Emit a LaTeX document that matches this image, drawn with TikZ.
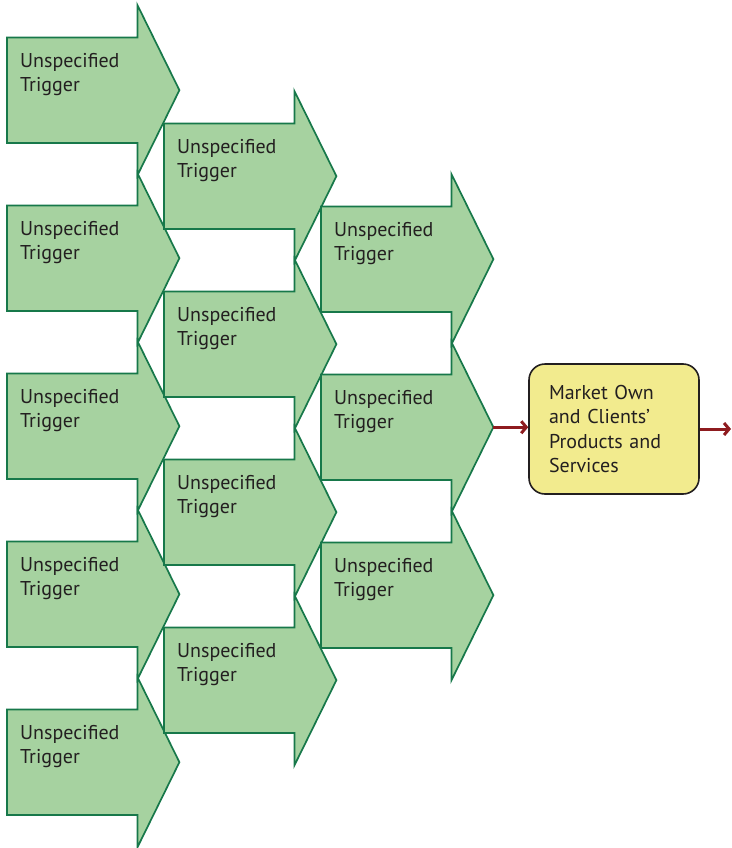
\documentclass[tikz,border=0pt]{standalone}
\usepackage{fontspec}
\setmainfont{PT Sans}
\usepackage{xcolor}
\usetikzlibrary{arrows.meta,positioning,backgrounds}
\definecolor{trigfill}{HTML}{A6D2A0}
\definecolor{trigline}{HTML}{17784A}
\definecolor{mktfill}{HTML}{F2EB8E}
\definecolor{inkgray}{HTML}{231F20}
\definecolor{flowred}{HTML}{8E1B1F}

\begin{document}
\begin{tikzpicture}[
  x=1pt, y=-1pt,
  font=\fontsize{20}{24.5}\selectfont,
  trig/.style={anchor=north west, inner xsep=13pt, inner ysep=0pt,
    text width=104pt, align=left, text height=29.5pt, text depth=75.5pt,
    text=inkgray},
  trigshape/.style={fill=trigfill, draw=trigline, line width=1.7pt, line join=miter},
  market/.style={draw=inkgray, fill=mktfill, line width=1.6pt, rounded corners=16pt,
    minimum width=170pt, minimum height=130pt, text width=130pt, inner xsep=20pt,
    align=left, text=inkgray},
  flow/.style={-{Straight Barb[length=5pt,width=12pt]}, line width=3pt, draw=flowred}
]
\useasboundingbox (0,0) rectangle (731,848);
% three columns of triggers
\foreach \i in {1,...,5}
  \node[trig] (a\i) at (7,{37.5+168*(\i-1)}) {Unspecified\\Trigger};
\foreach \i in {1,...,4}
  \node[trig] (b\i) at (164,{123.5+168*(\i-1)}) {Unspecified\\Trigger};
\foreach \i in {1,...,3}
  \node[trig] (c\i) at (321,{206.5+168*(\i-1)}) {Unspecified\\Trigger};
\begin{scope}[on background layer]
  \foreach \n in {a1,a2,a3,a4,a5,b1,b2,b3,b4,c1,c2,c3}
    \draw[trigshape] (\n.north west) -- (\n.north east) -- ([yshift=32.5pt]\n.north east)
      -- ([xshift=42pt]\n.east) -- ([yshift=-32.5pt]\n.south east) -- (\n.south east)
      -- (\n.south west) -- cycle;
\end{scope}
% result box
\node[market] (mk) at (614,429) {Market Own\\and Clients’\\Products and\\Services};
\coordinate (ctip) at ([xshift=42pt]c2.east);
\coordinate (out) at (731,429);
\draw[flow] (ctip) -- (ctip -| mk.west);
\draw[flow] (mk.east) -- (out);
\end{tikzpicture}
\end{document}
